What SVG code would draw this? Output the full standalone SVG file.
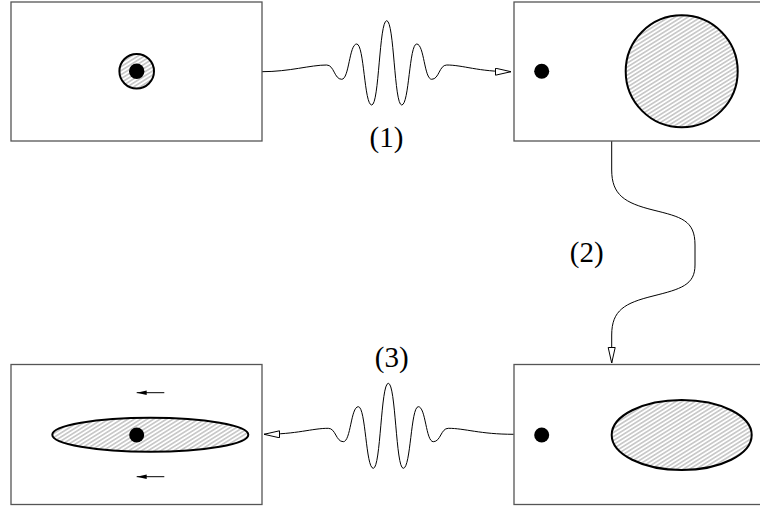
<svg xmlns="http://www.w3.org/2000/svg" width="760" height="511" viewBox="0 0 760 511">
<style>
.box{fill:#fff;stroke:#555;stroke-width:1.3}
.blob{fill:url(#hatch);stroke:#000;stroke-width:2}
.dot{fill:#000}
.wave{fill:none;stroke:#000;stroke-width:1}
.lbl{font-family:"Liberation Serif","Times New Roman",serif;font-size:29px;fill:#000;text-anchor:middle}
.small{stroke:#000;stroke-width:1;fill:none}
</style>
<defs>
<pattern id="hatch" patternUnits="userSpaceOnUse" width="3.4" height="3.4" patternTransform="rotate(-32)">
<rect width="3.4" height="3.4" fill="#fff"/>
<line x1="0" y1="1.7" x2="3.4" y2="1.7" stroke="#8a8a8a" stroke-width="0.8"/>
</pattern>
<marker id="open" markerUnits="userSpaceOnUse" markerWidth="18" markerHeight="10" refX="16" refY="4" orient="auto" viewBox="0 0 18 10">
<path d="M0.5,0.5 L16,4 L0.5,7.5 Z" fill="#fff" stroke="#000" stroke-width="1"/>
</marker>
<marker id="solid" markerUnits="userSpaceOnUse" markerWidth="11" markerHeight="5" refX="10" refY="2.2" orient="auto" viewBox="0 0 11 5">
<path d="M0,0 L10,2.2 L0,4.4 Z" fill="#000"/>
</marker>
</defs>

<g id="connectors">
<path id="c1" class="wave" marker-end="url(#open)" d="M261.7,71.7 C290,71.7 310,65 326.7,65 C334.2,65 334.2,79.3 341.7,79.3 C349.2,79.3 349.2,44 356.7,44 C364.2,44 364.2,105 371.7,105 C379.2,105 379.2,20.7 386.7,20.7 C394.2,20.7 394.2,105 401.7,105 C409.2,105 409.2,44 416.7,44 C424.2,44 424.2,79.3 431.7,79.3 C439.2,79.3 439.2,65 446.7,65 C463,65 478,71.7 511,71.7"/>
<path id="c2" class="wave" marker-end="url(#open)" d="M611.7,141 L611.7,170 C611.7,195 625,203 653,210 C681,217 695,220 695,245 L695,265 C695,285 681,289 653,296 C625,303 611.7,310 611.7,335 L611.7,363"/>
<path id="c3" class="wave" marker-end="url(#open)" d="M513.7,434.3 C480,434.3 465,428.3 448.3,428.3 C440.8,428.3 440.8,441.7 433.3,441.7 C425.8,441.7 425.8,406.7 418.3,406.7 C410.8,406.7 410.8,468.3 403.3,468.3 C395.8,468.3 395.8,383.3 388.3,383.3 C380.8,383.3 380.8,468.3 373.3,468.3 C365.8,468.3 365.8,406.7 358.3,406.7 C350.8,406.7 350.8,441.7 343.3,441.7 C335.8,441.7 335.8,428.3 328.3,428.3 C312,428.3 297,434.3 264,434.3"/>
<text class="lbl" x="386.5" y="147">(1)</text>
<text class="lbl" x="586.7" y="262">(2)</text>
<text class="lbl" x="391.7" y="366.7">(3)</text>
</g>

<g id="node1">
<rect class="box" x="11" y="2" width="251" height="139"/>
<circle class="blob" cx="136.7" cy="71.3" r="17.3"/>
<circle class="dot" cx="136.7" cy="71.3" r="7.7"/>
</g>

<g id="node2">
<rect class="box" x="514" y="2" width="251" height="139"/>
<circle class="dot" cx="541.7" cy="71.3" r="7.5"/>
<circle class="blob" cx="681.7" cy="71.3" r="56"/>
</g>

<g id="node3">
<rect class="box" x="514" y="364.5" width="251" height="140"/>
<circle class="dot" cx="541.7" cy="435" r="7.5"/>
<ellipse class="blob" cx="681.7" cy="435" rx="70" ry="35"/>
</g>

<g id="node4">
<rect class="box" x="11" y="364.5" width="251" height="140"/>
<ellipse class="blob" cx="150.3" cy="434.7" rx="98" ry="17"/>
<circle class="dot" cx="136.7" cy="435" r="7.5"/>
<line class="small" x1="164.3" y1="392.7" x2="136.7" y2="392.7" marker-end="url(#solid)"/>
<line class="small" x1="164.3" y1="476.7" x2="136.7" y2="476.7" marker-end="url(#solid)"/>
</g>
</svg>
